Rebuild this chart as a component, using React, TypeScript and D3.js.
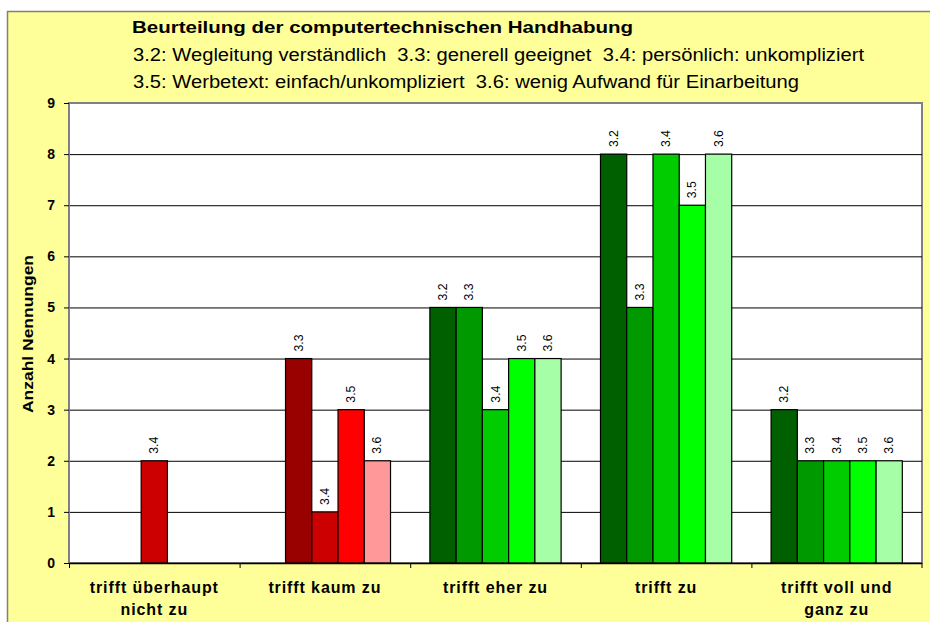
import React from "react";
import * as d3 from "d3";

const categories = [
  ["trifft überhaupt", "nicht zu"],
  ["trifft kaum zu"],
  ["trifft eher zu"],
  ["trifft zu"],
  ["trifft voll und", "ganz zu"],
];
const seriesNames = ["3.2", "3.3", "3.4", "3.5", "3.6"];
// values per series, one per category
const s32 = [0, 0, 5, 8, 3];
const s33 = [0, 4, 5, 5, 2];
const s34 = [2, 1, 3, 8, 2];
const s35 = [0, 3, 4, 7, 2];
const s36 = [0, 2, 4, 8, 2];
const seriesValues = [s32, s33, s34, s35, s36];
const yTicks = [0, 1, 2, 3, 4, 5, 6, 7, 8, 9];

const redColors = ["#660000", "#990000", "#CC0000", "#FF0000", "#FF9999"];
const greenColors = ["#006000", "#009900", "#00CC00", "#00FF00", "#A6FFA6"];

const title = "Beurteilung der computertechnischen Handhabung";
const titleLines = [
  "3.2: Wegleitung verständlich  3.3: generell geeignet  3.4: persönlich: unkompliziert",
  "3.5: Werbetext: einfach/unkompliziert  3.6: wenig Aufwand für Einarbeitung",
];
const titleWidths = [731, 666];

const font = "Arial, 'Liberation Sans', sans-serif";

export default function App() {
  const width = 930,
    height = 622;
  const plot = { left: 69, right: 922, top: 103, bottom: 563 };

  const x = d3
    .scaleBand<number>()
    .domain(categories.map((_, i) => i))
    .range([plot.left, plot.right])
    .padding(0);
  const xs = d3
    .scaleBand<number>()
    .domain(seriesNames.map((_, i) => i))
    .range([0, x.bandwidth()])
    .paddingInner(0)
    .paddingOuter(0.75);
  const y = d3.scaleLinear().domain([0, 9]).range([plot.bottom, plot.top]);

  const bars: { c: number; s: number; v: number }[] = [];
  seriesValues.forEach((vals, s) =>
    vals.forEach((v, c) => {
      if (v > 0) bars.push({ c, s, v });
    })
  );

  return (
    <svg
      width={width}
      height={height}
      style={{ position: "absolute", left: 0, top: 0, fontFamily: font }}
    >
      <rect x={0} y={0} width={width} height={height} fill="#fff" />
      <rect
        x={7.5}
        y={11.5}
        width={width}
        height={height}
        fill="#FFFF99"
        stroke="#808080"
        strokeWidth={1.5}
      />

      {/* titles */}
      <text
        x={132}
        y={33}
        fontSize={16}
        fontWeight="bold"
        fill="#000"
        textLength={501}
        lengthAdjust="spacingAndGlyphs"
      >
        {title}
      </text>
      {titleLines.map((t, i) => (
        <text
          key={i}
          x={133}
          y={61 + i * 26.5}
          fontSize={18}
          fill="#000"
          textLength={titleWidths[i]}
          lengthAdjust="spacingAndGlyphs"
          style={{ whiteSpace: "pre" }}
        >
          {t}
        </text>
      ))}

      {/* plot area */}
      <rect
        x={plot.left}
        y={plot.top}
        width={plot.right - plot.left}
        height={plot.bottom - plot.top}
        fill="#fff"
        stroke="#808080"
        strokeWidth={2}
      />
      {yTicks
        .filter((t) => t > 0 && t < 9)
        .map((t) => (
          <line
            key={t}
            x1={plot.left}
            x2={plot.right}
            y1={y(t) + 0.5}
            y2={y(t) + 0.5}
            stroke="#000"
            strokeWidth={1}
          />
        ))}

      {/* bars */}
      {bars.map((b, i) => {
        const bx = x(b.c)! + xs(b.s)!;
        const colors = b.c < 2 ? redColors : greenColors;
        return (
          <rect
            key={i}
            x={bx}
            y={y(b.v)}
            width={xs.bandwidth()}
            height={y(0) - y(b.v)}
            fill={colors[b.s]}
            stroke="#000"
            strokeWidth={1.2}
          />
        );
      })}

      {/* data labels */}
      {bars.map((b, i) => {
        const cx = x(b.c)! + xs(b.s)! + xs.bandwidth() / 2;
        const ty = y(b.v) - 7;
        return (
          <text
            key={i}
            transform={`translate(${cx + 4},${ty}) rotate(-90)`}
            fontSize={12}
            fill="#000"
            textLength={17}
            lengthAdjust="spacingAndGlyphs"
          >
            {seriesNames[b.s]}
          </text>
        );
      })}

      {/* y axis */}
      <line x1={plot.left} x2={plot.left} y1={plot.top} y2={plot.bottom} stroke="#808080" strokeWidth={2} />
      {yTicks.map((t) => (
        <g key={t}>
          <line x1={plot.left - 5} x2={plot.left} y1={y(t) + 0.5} y2={y(t) + 0.5} stroke="#000" />
          <text
            x={55}
            y={y(t) + 5}
            textAnchor="end"
            fontSize={14}
            fontWeight="bold"
            fill="#000"
          >
            {t}
          </text>
        </g>
      ))}
      <text
        transform={`translate(33,${334}) rotate(-90)`}
        textAnchor="middle"
        fontSize={15}
        fontWeight="bold"
        fill="#000"
        textLength={158}
        lengthAdjust="spacingAndGlyphs"
      >
        Anzahl Nennungen
      </text>

      {/* x axis */}
      <line x1={plot.left} x2={plot.right} y1={plot.bottom + 0.5} y2={plot.bottom + 0.5} stroke="#000" strokeWidth={1.5} />
      {categories.map((_, i) => (
        <line
          key={i}
          x1={x(i)! + 0.5}
          x2={x(i)! + 0.5}
          y1={plot.bottom}
          y2={plot.bottom + 5}
          stroke="#000"
        />
      ))}
      <line x1={plot.right} x2={plot.right} y1={plot.bottom} y2={plot.bottom + 5} stroke="#000" />
      {categories.map((lines, i) => (
        <text
          key={i}
          x={x(i)! + x.bandwidth() / 2}
          textAnchor="middle"
          fontSize={16}
          fontWeight="bold"
          fill="#000"
          letterSpacing={0.9}
        >
          {lines.map((l, j) => (
            <tspan key={j} x={x(i)! + x.bandwidth() / 2} y={593 + j * 22}>
              {l}
            </tspan>
          ))}
        </text>
      ))}
    </svg>
  );
}
